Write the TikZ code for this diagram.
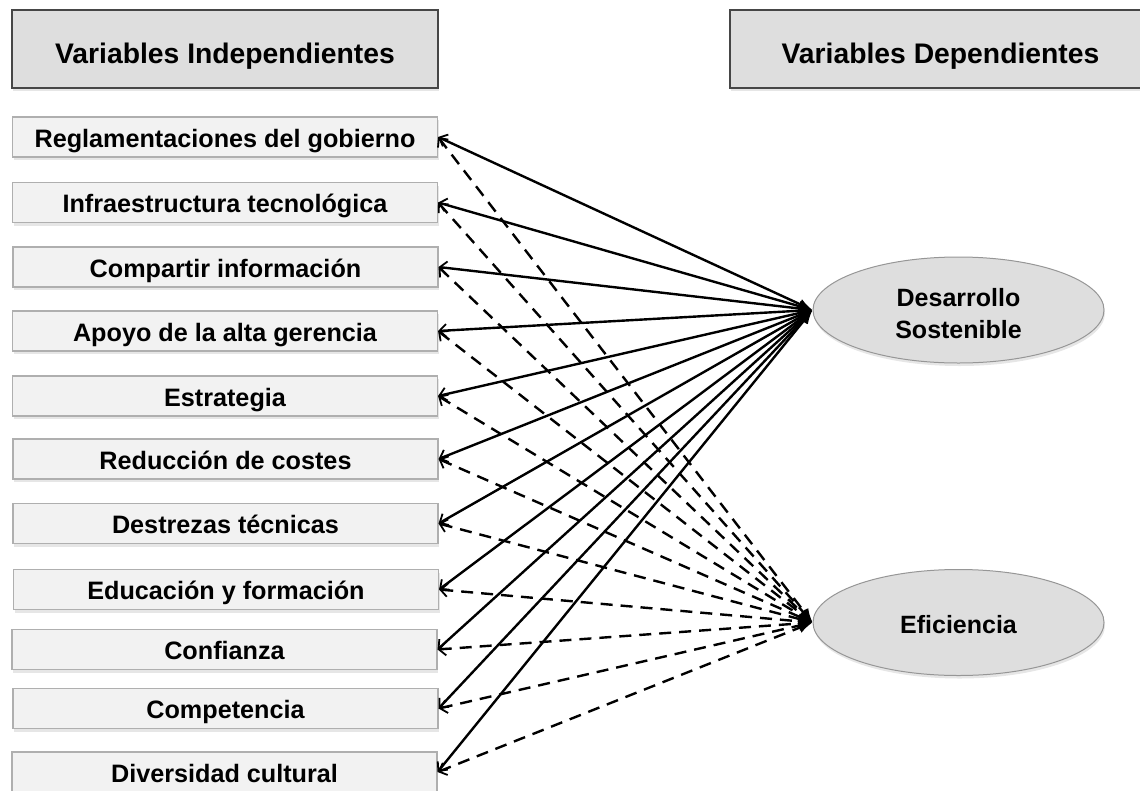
\documentclass[tikz,border=0pt]{standalone}
\usepackage{fontspec}
\setmainfont{Liberation Sans}
\usetikzlibrary{arrows.meta,shapes.geometric,shadows}

\definecolor{headfill}{RGB}{222,222,222}
\definecolor{headline}{RGB}{70,70,70}
\definecolor{varfill}{RGB}{242,242,242}
\definecolor{varline}{RGB}{175,175,175}
\definecolor{ovalfill}{RGB}{222,222,222}
\definecolor{ovalline}{RGB}{150,150,150}

\tikzset{
  softshadow/.style={drop shadow={opacity=0.2,shadow xshift=1pt,shadow yshift=-3pt}},
  headbox/.style={draw=headline,line width=1.3pt,fill=headfill,softshadow,
    minimum height=78pt,inner sep=0pt,text height=28pt,text depth=0pt,
    font=\bfseries\fontsize{28.3}{32}\selectfont},
  varbox/.style={draw=varline,line width=1.1pt,fill=varfill,softshadow,
    minimum width=425pt,minimum height=40pt,inner sep=0pt,
    text height=20pt,text depth=0pt,
    font=\bfseries\fontsize{25.2}{30}\selectfont},
  oval/.style={ellipse,draw=ovalline,line width=1pt,fill=ovalfill,softshadow,
    minimum width=291pt,minimum height=106pt,inner sep=0pt,align=center,
    font=\bfseries\fontsize{25}{32}\selectfont},
  link/.style={line width=2.4pt,black,
    {Straight Barb[length=7pt,width=13pt,line width=1.8pt]}-{Latex[length=14pt,width=11pt]}},
  solidlink/.style={link},
  dashlink/.style={link,dash pattern=on 12pt off 8pt}
}

\begin{document}
\begin{tikzpicture}[x=1pt,y=-1pt]
\useasboundingbox (0,0) rectangle (1140,790);

% column headers
\node[headbox,minimum width=426pt] (hi) at (225,49) {Variables Independientes};
\node[headbox,minimum width=421pt] (hd) at (940.5,49) {Variables Dependientes};

% dependent variables (a strut on the first line sets the text a little lower)
\node[oval] (ds) at (958.5,310) {\rule{0pt}{24.5pt}Desarrollo\\Sostenible};
\node[oval] (ef) at (958.5,622.5) {\rule{0pt}{21.5pt}Eficiencia};

% independent variables
\node[varbox] (v1)  at (225,137)   {Reglamentaciones del gobierno};
\node[varbox] (v2)  at (225,202.5) {Infraestructura tecnológica};
\node[varbox] (v3)  at (225.5,267) {Compartir información};
\node[varbox] (v4)  at (225,331)   {Apoyo de la alta gerencia};
\node[varbox] (v5)  at (225,396)   {Estrategia};
\node[varbox] (v6)  at (225.5,459) {Reducción de costes};
\node[varbox] (v7)  at (225.5,523.5) {Destrezas técnicas};
\node[varbox] (v8)  at (226,589.5) {Educación y formación};
\node[varbox] (v9)  at (224.5,649.5) {Confianza};
\node[varbox] (v10) at (225.5,708.5) {Competencia};
\node[varbox] (v11) at (224.5,772) {Diversidad cultural};

% every independent variable points to both outcomes
\foreach \i in {1,...,11} {
  \draw[dashlink]  (v\i.east) -- (ef.west);
}
\foreach \i in {1,...,11} {
  \draw[solidlink] (v\i.east) -- (ds.west);
}
\end{tikzpicture}
\end{document}
